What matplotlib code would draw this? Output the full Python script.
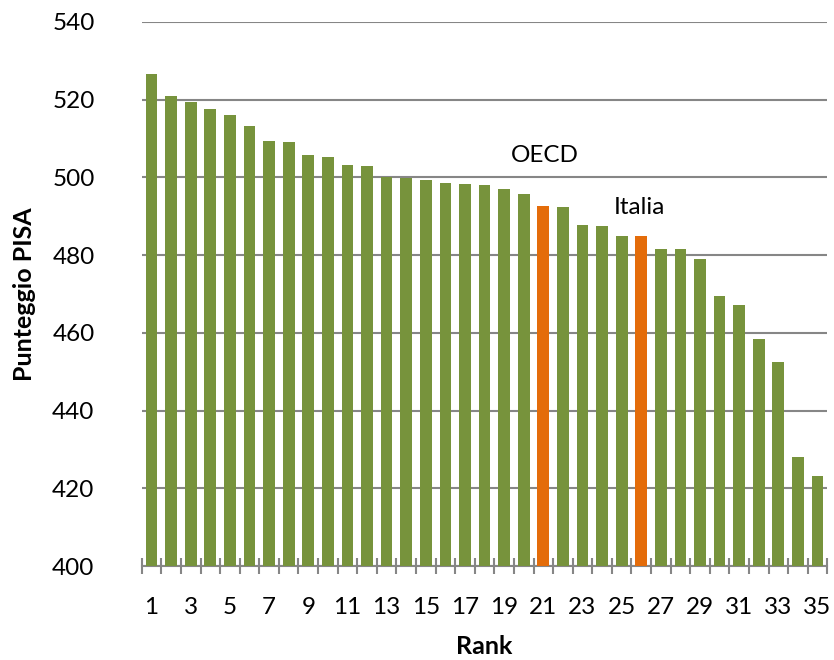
import matplotlib.pyplot as plt

plt.rcParams['font.family'] = ['Lato', 'DejaVu Sans']

ranks = list(range(1, 36))
scores = [526.7, 521.0, 519.5, 517.7, 516.1, 513.3, 509.3, 509.2, 505.8, 505.3,
          503.1, 502.9, 500.1, 499.9, 499.4, 498.5, 498.2, 498.0, 497.0, 495.7,
          492.7, 492.3, 487.8, 487.4, 485.0, 485.0, 481.7, 481.6, 479.0, 469.6,
          467.1, 458.5, 452.4, 428.2, 423.1]
highlight = {21: 'OECD', 26: 'Italia'}

green = '#77933C'
orange = '#E46C0A'
colors = [orange if r in highlight else green for r in ranks]

fig = plt.figure(figsize=(8.34, 6.6), dpi=100)
ax = fig.add_axes([0.170, 0.142, 0.822, 0.825])

ax.bar(ranks, [s - 400 for s in scores], bottom=400, width=0.6, color=colors, zorder=3)

ax.set_xlim(0.5, 35.5)
ax.set_ylim(400, 540)
ax.set_yticks(range(400, 541, 20))
ax.set_xticks(range(1, 36, 2))
ax.set_xticks([r + 0.5 for r in range(0, 36)], minor=True)
ax.grid(axis='y', color='#868686', linewidth=1.5, zorder=0)

for s in ['top', 'right', 'left']:
    ax.spines[s].set_visible(False)
ax.spines['bottom'].set_color('#868686')
ax.spines['bottom'].set_linewidth(1.5)
ax.tick_params(axis='y', length=0, labelsize=17.5, pad=34)
ax.tick_params(axis='x', which='major', length=0, labelsize=17.5, pad=22)
ax.tick_params(axis='x', which='minor', direction='inout', length=12, width=1.5, color='#868686')

ax.text(21.1, 505.5, 'OECD', ha='center', va='center', fontsize=17.5)
ax.text(25.9, 492.2, 'Italia', ha='center', va='center', fontsize=17.5)

ax.set_xlabel('Rank', fontsize=18, fontweight='bold', labelpad=12)
ax.set_ylabel('Punteggio PISA', fontsize=18, fontweight='bold', labelpad=12)

fig.savefig('out.png', dpi=100)
